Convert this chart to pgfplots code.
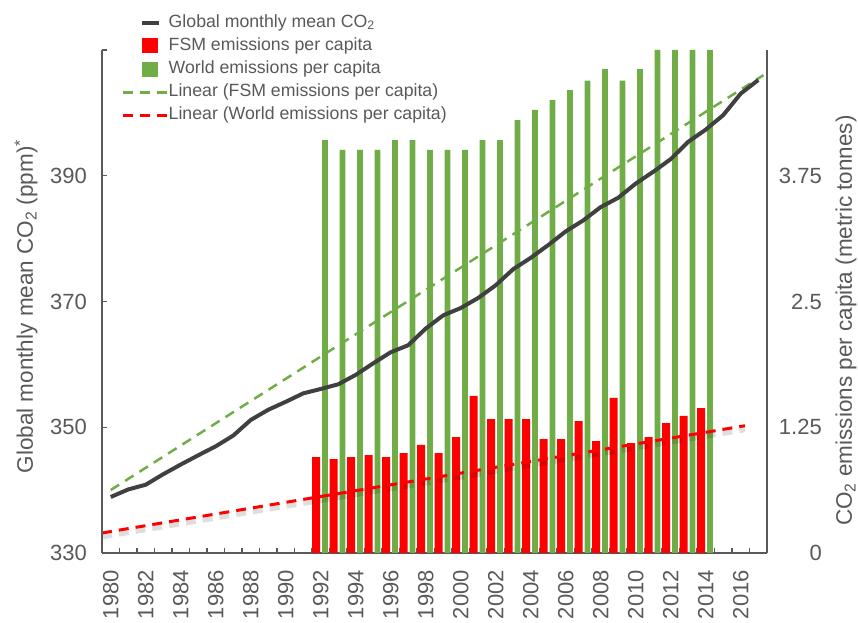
\documentclass[border=0pt]{standalone}
\usepackage{fontspec}
\setmainfont{Liberation Sans}
\usepackage{pgfplots}
\usepackage{pgfplotstable}
\pgfplotsset{compat=1.18}
\definecolor{txt}{HTML}{595959}
\definecolor{axc}{HTML}{595959}
\definecolor{co2}{HTML}{404040}
\definecolor{grn}{HTML}{70AD47}
\definecolor{rd}{HTML}{FF0000}

\pgfplotstableread{
year fsm world
1992 0.954 4.105
1993 0.934 4.006
1994 0.954 4.006
1995 0.974 4.006
1996 0.954 4.105
1997 0.994 4.105
1998 1.074 4.006
1999 0.994 4.006
2000 1.153 4.006
2001 1.561 4.105
2002 1.332 4.105
2003 1.332 4.304
2004 1.332 4.404
2005 1.133 4.503
2006 1.133 4.602
2007 1.312 4.695
2008 1.113 4.811
2009 1.541 4.695
2010 1.093 4.811
2011 1.153 5.000
2012 1.292 5.000
2013 1.362 5.000
2014 1.441 5.000
}\bars

\pgfplotstableread{
year co2
1980 338.91
1981 340.11
1982 340.86
1983 342.53
1984 344.07
1985 345.54
1986 346.97
1987 348.68
1988 351.16
1989 352.78
1990 354.05
1991 355.39
1992 356.09
1993 356.83
1994 358.33
1995 360.17
1996 361.93
1997 363.05
1998 365.70
1999 367.80
2000 368.96
2001 370.57
2002 372.59
2003 375.15
2004 376.95
2005 378.98
2006 381.15
2007 382.90
2008 385.02
2009 386.50
2010 388.76
2011 390.63
2012 392.65
2013 395.40
2014 397.34
2015 399.65
2016 403.07
2017 405.22
}\cotwo

\begin{document}
\begin{tikzpicture}
\pgfplotsset{
  common/.style={
    scale only axis, width=665bp, height=503bp,
    xmin=1979.5, xmax=2017.5,
    axis line style={axc, line width=1.3bp},
    tick style={axc, line width=1.1bp},
    tick align=inside,
    every tick label/.append style={font=\fontsize{22bp}{26bp}\selectfont, text=txt},
    label style={font=\fontsize{22.5bp}{26bp}\selectfont, text=txt},
  }
}
\begin{axis}[common,
  axis y line*=right, axis x line*=bottom,
  ymin=0, ymax=5,
  ytick={0,1.25,2.5,3.75}, yticklabels={0,1.25,2.5,3.75},
  yticklabel style={anchor=east, inner sep=0pt, xshift=55bp},
  major tick length=0pt,
  minor tick length=5bp,
  xtick={1980,1982,...,2016},
  xticklabels={1980,1982,1984,1986,1988,1990,1992,1994,1996,1998,2000,2002,2004,2006,2008,2010,2012,2014,2016},
  minor xtick={1979.5,1980.5,...,2017.5},
  xticklabel style={rotate=90, anchor=east, inner sep=0pt},
  xticklabel shift=17bp,
  ylabel={CO\textsubscript{2} emissions per capita (metric tonnes)},
  ylabel style={at={(axis description cs:1.1188,0.462)}, anchor=center},
  legend cell align=left,
  legend style={at={(axis description cs:0.0301,1.0716)}, anchor=north west,
    draw=none, fill=none, inner sep=0pt, row sep=6.2bp,
    font=\fontsize{17.7bp}{21bp}\selectfont, text=txt,
    nodes={inner sep=0pt, text height=13bp, text depth=4bp},
    /tikz/every even column/.append style={column sep=5bp}},
]
\addlegendimage{legend image code/.code={\path[draw=none,fill=none] (0,-8bp) rectangle (44bp,8bp); \draw[co2, line width=4bp, solid] (19bp,0) -- (36bp,0);}}
\addlegendentry{Global monthly mean CO\textsubscript{2}}

\addplot[ybar, bar width=0.47, bar shift=-0.265, fill=rd, draw=none,
  legend image code/.code={\path[draw=none,fill=none] (0,-8bp) rectangle (44bp,8bp); \fill[rd] (19bp,-7.5bp) rectangle (35bp,7.5bp);}]
  table[x=year, y=fsm]{\bars};
\addlegendentry{FSM emissions per capita}

\addplot[ybar, bar width=0.32, bar shift=0.24, fill=grn, draw=none,
  legend image code/.code={\path[draw=none,fill=none] (0,-8bp) rectangle (44bp,8bp); \fill[grn] (19bp,-7.5bp) rectangle (35bp,7.5bp);}]
  table[x=year, y=world]{\bars};
\addlegendentry{World emissions per capita}

\addplot[grn, line width=2.5bp, dash pattern=on 10bp off 7bp,
  legend image code/.code={\path[draw=none,fill=none] (0,-8bp) rectangle (44bp,8bp); \draw[grn, line width=2.5bp, dash pattern=on 10bp off 7bp] (0,0) -- (44bp,0);}]
  coordinates {(1980,0.626) (2017.3,4.75)};
\addlegendentry{Linear (FSM emissions per capita)}

\addplot[black, draw opacity=0.13, line width=5bp, dash pattern=on 10bp off 7bp, yshift=-4bp, forget plot]
  coordinates {(1979.5,0.199) (2016.24,1.265)};
\addplot[rd, line width=3bp, dash pattern=on 10bp off 7bp,
  legend image code/.code={\path[draw=none,fill=none] (0,-8bp) rectangle (44bp,8bp); \draw[rd, line width=2.5bp, dash pattern=on 10bp off 7bp] (0,0) -- (44bp,0);}]
  coordinates {(1979.5,0.199) (2016.24,1.265)};
\addlegendentry{Linear (World emissions per capita)}
\end{axis}

\begin{axis}[common,
  axis y line*=left, axis x line=none,
  ymin=330, ymax=410,
  ytick={330,350,370,390,410}, yticklabels={330,350,370,390,{}},
  major tick length=5bp,
  yticklabel style={anchor=east, inner sep=0pt, xshift=-15bp},
  ylabel={Global monthly mean CO\textsubscript{2} (ppm)\textsuperscript{*}},
  ylabel style={at={(axis description cs:-0.1143,0.49)}, anchor=center},
]
\addplot[co2, line width=4bp, line join=round] table[x=year, y=co2]{\cotwo};
\end{axis}

\pgfresetboundingbox
\path[use as bounding box] (-102bp,-70bp) rectangle (756bp,553bp);
\end{tikzpicture}
\end{document}
